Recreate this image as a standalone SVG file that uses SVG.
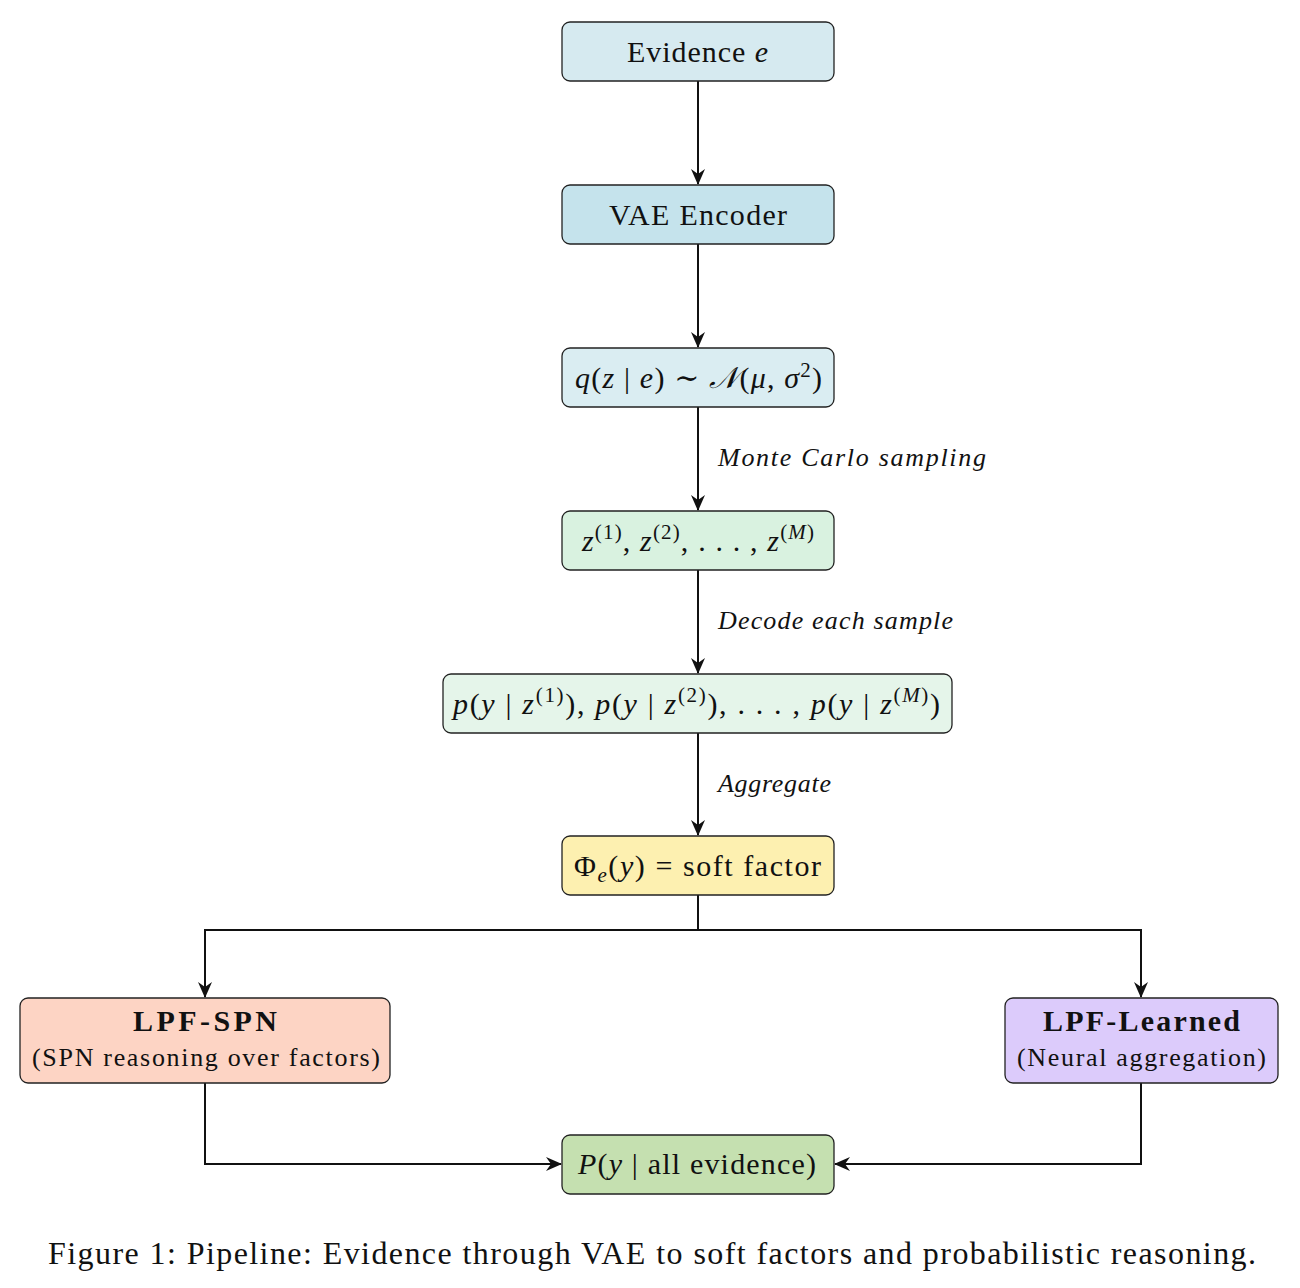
<svg xmlns="http://www.w3.org/2000/svg" width="1300" height="1288" viewBox="0 0 1300 1288">
<style>
.box{stroke:#222;stroke-width:1.3}
.t{font-family:"Liberation Serif","DejaVu Serif",serif;font-size:30px;fill:#111}
.s{font-size:26px}
.b{font-weight:bold}
.i{font-style:italic}
.sup{font-size:21px}
.lbl{font-family:"Liberation Serif","DejaVu Serif",serif;font-size:26px;font-style:italic;fill:#111}
.edge{fill:none;stroke:#111;stroke-width:2}
.cap{font-family:"Liberation Serif","DejaVu Serif",serif;font-size:32px;fill:#111}
</style>
<defs>
<marker id="ah" markerWidth="16" markerHeight="14" viewBox="0 0 16 14" refX="15" refY="7" orient="auto" markerUnits="userSpaceOnUse">
<path d="M0,0 L16,7 L0,14 L5,7 Z" fill="#111"/>
</marker>
</defs>
<rect width="1300" height="1288" fill="#fff"/>
<g id="connectors">
<line class="edge" x1="698" y1="81" x2="698" y2="184" marker-end="url(#ah)"/>
<line class="edge" x1="698" y1="244" x2="698" y2="347" marker-end="url(#ah)"/>
<line class="edge" x1="698" y1="407" x2="698" y2="510" marker-end="url(#ah)"/>
<line class="edge" x1="698" y1="570" x2="698" y2="673" marker-end="url(#ah)"/>
<line class="edge" x1="698" y1="733" x2="698" y2="835" marker-end="url(#ah)"/>
<polyline class="edge" points="698,895 698,930 205,930 205,997" marker-end="url(#ah)"/>
<polyline class="edge" points="698,930 1141,930 1141,997" marker-end="url(#ah)"/>
<polyline class="edge" points="205,1083 205,1164 561,1164" marker-end="url(#ah)"/>
<polyline class="edge" points="1141,1083 1141,1164 835,1164" marker-end="url(#ah)"/>
<text class="lbl" x="718" y="466" textLength="268" lengthAdjust="spacing">Monte Carlo sampling</text>
<text class="lbl" x="718" y="629" textLength="235" lengthAdjust="spacing">Decode each sample</text>
<text class="lbl" x="718" y="792" textLength="113" lengthAdjust="spacing">Aggregate</text>
</g>
<g id="evidence">
<rect class="box" x="562" y="22" width="272" height="59" rx="8" fill="#d6eaf0"/>
<text class="t" x="627" y="62" textLength="141" lengthAdjust="spacing">Evidence <tspan class="i">e</tspan></text>
</g>
<g id="encoder">
<rect class="box" x="562" y="185" width="272" height="59" rx="8" fill="#c5e3ec"/>
<text class="t" x="609" y="225" textLength="178" lengthAdjust="spacing">VAE Encoder</text>
</g>
<g id="posterior">
<rect class="box" x="562" y="348" width="272" height="59" rx="8" fill="#daedf2"/>
<text class="t" x="575" y="388" textLength="247" lengthAdjust="spacing"><tspan class="i">q</tspan>(<tspan class="i">z</tspan> | <tspan class="i">e</tspan>) ∼ <tspan class="i">𝒩</tspan>(<tspan class="i">μ</tspan>, <tspan class="i">σ</tspan><tspan class="sup" dy="-11">2</tspan><tspan dy="11">)</tspan></text>
</g>
<g id="samples">
<rect class="box" x="562" y="511" width="272" height="59" rx="8" fill="#d9f2e0"/>
<text class="t" x="582" y="551" textLength="232" lengthAdjust="spacing"><tspan class="i">z</tspan><tspan class="sup" dy="-12">(1)</tspan><tspan dy="12">, </tspan><tspan class="i">z</tspan><tspan class="sup" dy="-12">(2)</tspan><tspan dy="12">, . . . , </tspan><tspan class="i">z</tspan><tspan class="sup" dy="-12">(<tspan class="i">M</tspan>)</tspan></text>
</g>
<g id="decoded">
<rect class="box" x="443" y="674" width="509" height="59" rx="8" fill="#e5f5ea"/>
<text class="t" x="453" y="714" textLength="487" lengthAdjust="spacing"><tspan class="i">p</tspan>(<tspan class="i">y</tspan> | <tspan class="i">z</tspan><tspan class="sup" dy="-12">(1)</tspan><tspan dy="12">), </tspan><tspan class="i">p</tspan>(<tspan class="i">y</tspan> | <tspan class="i">z</tspan><tspan class="sup" dy="-12">(2)</tspan><tspan dy="12">), . . . , </tspan><tspan class="i">p</tspan>(<tspan class="i">y</tspan> | <tspan class="i">z</tspan><tspan class="sup" dy="-12">(<tspan class="i">M</tspan>)</tspan><tspan dy="12">)</tspan></text>
</g>
<g id="factor">
<rect class="box" x="562" y="836" width="272" height="59" rx="8" fill="#fdf0b0"/>
<text class="t" x="574" y="876" textLength="247" lengthAdjust="spacing">Φ<tspan class="sup i" dy="6">e</tspan><tspan dy="-6">(</tspan><tspan class="i">y</tspan>) = soft factor</text>
</g>
<g id="lpf-spn">
<rect class="box" x="20" y="998" width="370" height="85" rx="8" fill="#fdd4c4"/>
<text class="t b" x="133" y="1031" textLength="144" lengthAdjust="spacing">LPF-SPN</text>
<text class="t s" x="32" y="1066" textLength="348" lengthAdjust="spacing">(SPN reasoning over factors)</text>
</g>
<g id="lpf-learned">
<rect class="box" x="1005" y="998" width="273" height="85" rx="8" fill="#dccbfb"/>
<text class="t b" x="1043" y="1031" textLength="197" lengthAdjust="spacing">LPF-Learned</text>
<text class="t s" x="1017" y="1066" textLength="249" lengthAdjust="spacing">(Neural aggregation)</text>
</g>
<g id="result">
<rect class="box" x="562" y="1135" width="272" height="59" rx="8" fill="#c5e0b0"/>
<text class="t" x="578" y="1174" textLength="238" lengthAdjust="spacing"><tspan class="i">P</tspan>(<tspan class="i">y</tspan> | all evidence)</text>
</g>
<text class="cap" x="48" y="1264" textLength="1208" lengthAdjust="spacing">Figure 1: Pipeline: Evidence through VAE to soft factors and probabilistic reasoning.</text>
</svg>
